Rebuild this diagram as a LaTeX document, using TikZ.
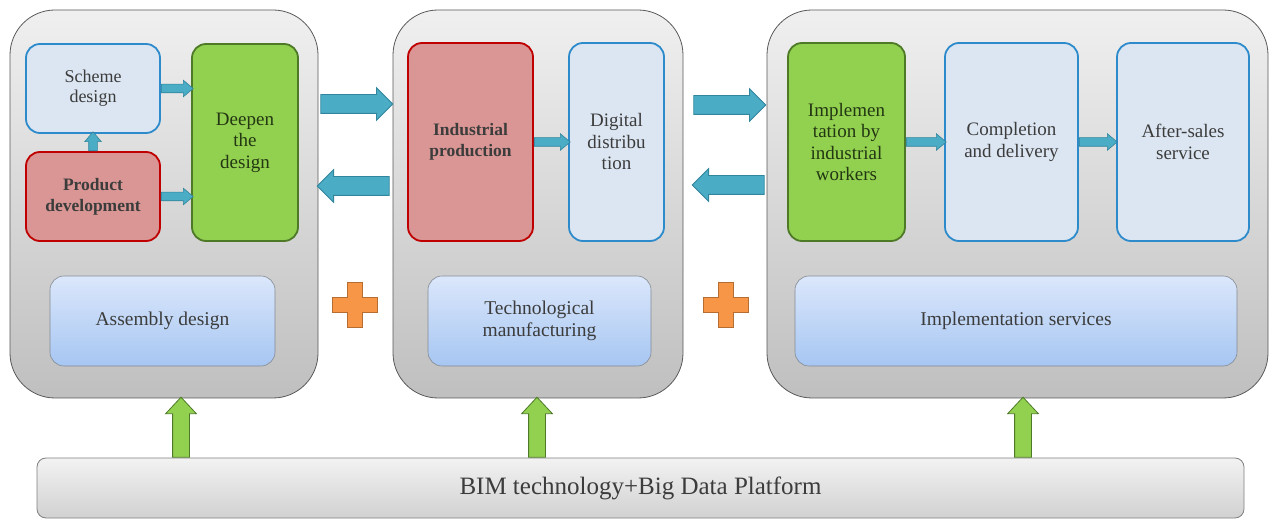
\documentclass[tikz,border=0pt]{standalone}
\usepackage{fontspec}
\setmainfont{Liberation Serif}
\usetikzlibrary{shapes.arrows,calc}
\definecolor{txtgray}{HTML}{3C3C3C}
\definecolor{lightblue}{HTML}{DCE6F2}
\definecolor{boxblue}{HTML}{2E8BCB}
\definecolor{lightred}{HTML}{D99694}
\definecolor{boxred}{HTML}{C00000}
\definecolor{lightgreen}{HTML}{92D050}
\definecolor{boxgreen}{HTML}{4E7A27}
\definecolor{arrowteal}{HTML}{4BACC6}
\definecolor{darkteal}{HTML}{31859C}
\definecolor{plusorange}{HTML}{F79646}
\definecolor{darkorange}{HTML}{B66D31}
\tikzset{
  panel/.style={draw=black!65, line width=0.8pt, rounded corners=45pt,
    top color=black!6, bottom color=black!25, inner sep=0pt},
  stagebox/.style={rounded corners=14pt, line width=1.8pt, inner sep=0pt,
    align=center, text=txtgray, font=\fontsize{19}{21.5}\selectfont},
  bluebox/.style={stagebox, draw=boxblue, fill=lightblue},
  redbox/.style={stagebox, draw=boxred, fill=lightred, font=\fontsize{17.5}{21}\selectfont\bfseries},
  greenbox/.style={stagebox, draw=boxgreen, fill=lightgreen, text=black!55!boxgreen},
  basebox/.style={rounded corners=14pt, draw=black!40!lightblue, line width=0.6pt,
    top color={rgb,255:red,219;green,231;blue,251}, bottom color={rgb,255:red,166;green,198;blue,242},
    inner sep=0pt, align=center, text=txtgray, font=\fontsize{19.5}{22}\selectfont},
  smallarrow/.style={single arrow, draw=darkteal, fill=arrowteal, line width=0.6pt,
    inner xsep=0pt, inner ysep=4pt, single arrow head extend=4pt,
    single arrow tip angle=80, minimum height=32pt, anchor=tail},
  bigarrow/.style={single arrow, draw=darkteal, fill=arrowteal, line width=0.8pt,
    inner xsep=0pt, inner ysep=9pt, single arrow head extend=7pt,
    minimum height=72pt, anchor=tail},
  uparrow/.style={single arrow, draw=boxgreen, fill=lightgreen, line width=0.8pt,
    shape border rotate=90, inner xsep=8pt, inner ysep=0pt,
    single arrow head extend=7pt, single arrow tip angle=86, minimum height=60pt, anchor=tail},
  orangeplus/.pic={
    \filldraw[fill=plusorange, draw=darkorange, line width=0.8pt]
      (-7.5,-22.5) -- (7.5,-22.5) -- (7.5,-7.5) -- (22.5,-7.5) -- (22.5,7.5)
      -- (7.5,7.5) -- (7.5,22.5) -- (-7.5,22.5) -- (-7.5,7.5) -- (-22.5,7.5)
      -- (-22.5,-7.5) -- (-7.5,-7.5) -- cycle;
  }
}
\begin{document}
\begin{tikzpicture}[x=1pt, y=-1pt]
  \useasboundingbox (0,0) rectangle (1270,521);
  % three stages and the platform
  \node[panel, minimum width=308pt, minimum height=388pt] (design) at (164,204) {};
  \node[panel, minimum width=290pt, minimum height=388pt] (manuf) at (538,204) {};
  \node[panel, minimum width=501pt, minimum height=388pt] (service) at (1017.5,204) {};
  \node[draw=black!50, line width=0.8pt, rounded corners=9pt, top color=black!5, bottom color=black!18,
    minimum width=1207pt, minimum height=60pt, font=\fontsize{25}{28}\selectfont, text=txtgray]
    (platform) at (640.5,488) {BIM technology+Big Data Platform};

  % design stage
  \node[bluebox, minimum width=134pt, minimum height=89pt, font=\fontsize{18}{20}\selectfont] (scheme) at (93,88.5) {Scheme\\design};
  \node[redbox, minimum width=134pt, minimum height=89pt] (product) at (93,196.5) {Product\\development};
  \node[greenbox, minimum width=106pt, minimum height=197pt] (deepen) at (245,142.5) {Deepen\\the\\design};
  \node[basebox, minimum width=225pt, minimum height=90pt] (assembly) at (162.5,321) {Assembly design};

  % manufacturing stage
  \node[redbox, minimum width=125pt, minimum height=198pt] (indprod) at (470.5,142) {Industrial\\production};
  \node[bluebox, minimum width=95pt, minimum height=198pt] (digdist) at (616.5,142) {Digital\\distribu\\tion};
  \node[basebox, minimum width=223pt, minimum height=90pt] (techmanuf) at (539.5,321) {Technological\\manufacturing};

  % service stage
  \node[greenbox, minimum width=117pt, minimum height=198pt] (implement) at (846.5,142) {Implemen\\tation by\\industrial\\workers};
  \node[bluebox, minimum width=133pt, minimum height=198pt] (delivery) at (1011.5,142) {Completion\\and delivery};
  \node[bluebox, minimum width=132pt, minimum height=198pt] (aftersales) at (1183,142) {After-sales\\service};
  \node[basebox, minimum width=442pt, minimum height=90pt] (implserv) at (1016,321) {Implementation services};

  % arrows inside the stages
  \node[smallarrow] (a1) at (scheme.east) {};
  \node[smallarrow] (a2) at (product.east) {};
  \node[smallarrow, shape border rotate=90, inner xsep=4pt, inner ysep=0pt, minimum height=19pt] (a3) at (product.north) {};
  \node[smallarrow, minimum height=36pt] (a4) at (indprod.east) {};
  \node[smallarrow, minimum height=40pt] (a5) at (implement.east) {};
  \node[smallarrow, minimum height=38pt] (a6) at (delivery.east) {};

  % arrows between the stages
  \node[bigarrow] (r1) at ([xshift=2pt, yshift=100pt]design.east) {};
  \node[bigarrow, shape border rotate=180] (l1) at ([xshift=-3pt, yshift=18pt]manuf.west) {};
  \node[bigarrow] (r2) at ([xshift=10pt, yshift=99pt]manuf.east) {};
  \node[bigarrow, shape border rotate=180] (l2) at ([xshift=-2pt, yshift=19pt]service.west) {};

  \pic at (355,305) {orangeplus};
  \pic at (726,305) {orangeplus};

  % platform support
  \node[uparrow] (u1) at ([xshift=-459.5pt]platform.north) {};
  \node[uparrow] (u2) at ([xshift=-103.5pt]platform.north) {};
  \node[uparrow] (u3) at ([xshift=382.5pt]platform.north) {};
\end{tikzpicture}
\end{document}
